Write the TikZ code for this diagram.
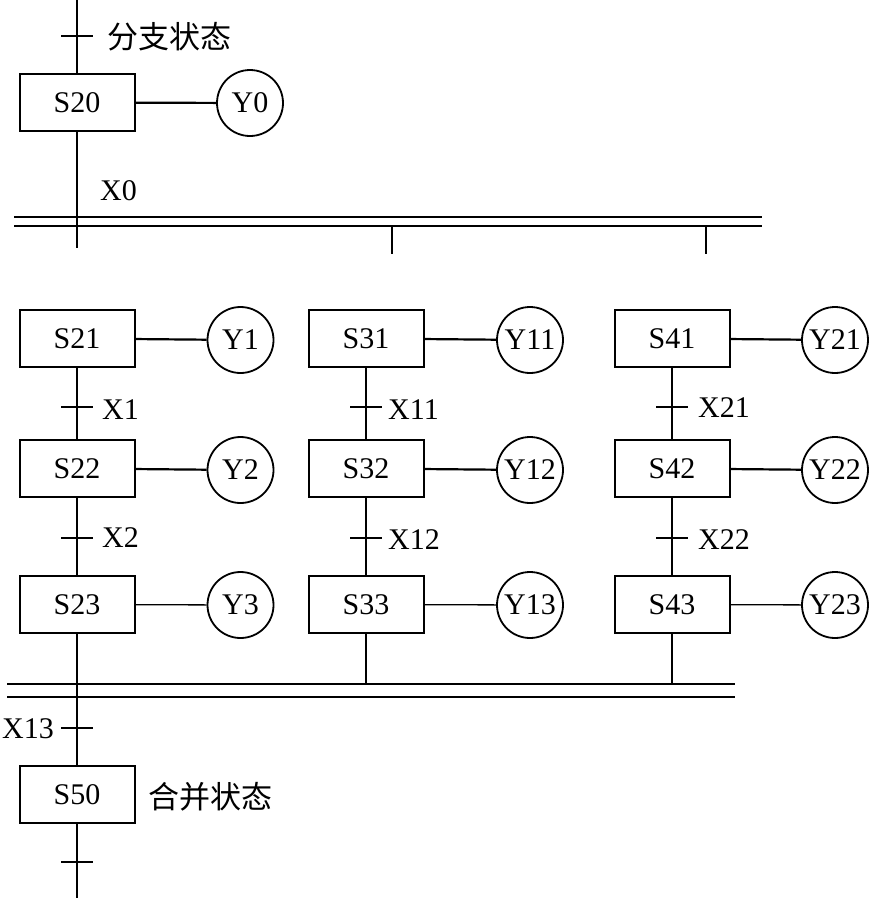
\documentclass[tikz,border=0pt]{standalone}
\usepackage{fontspec}
\setmainfont{Liberation Serif}
\newfontfamily\cjk{Noto Sans CJK SC}
\begin{document}
\begin{tikzpicture}[x=1pt,y=-1pt,
  stepbox/.style={draw, line width=2pt, minimum width=115pt, minimum height=57pt, inner sep=0pt, font=\fontsize{30}{32}\selectfont},
  outc/.style={draw, circle, line width=1.8pt, minimum size=66pt, inner sep=0pt, font=\fontsize{30}{32}\selectfont},
  lbl/.style={font=\fontsize{30}{32}\selectfont, inner sep=0pt},
  cjklbl/.style={font=\cjk\fontsize{31}{33}\selectfont, inner sep=0pt},
  ln/.style={line width=2.2pt},
  lnthin/.style={line width=1.3pt},
  tick/.style={line width=2.2pt}]
\useasboundingbox (0,0) rectangle (869,898);

% ---------- top: S20 ----------
\coordinate (top) at (77,0);
\node[stepbox] (S20) at (77,102.5) {S20};
\node[outc] (Y0) at (250,103) {Y0};
\draw[ln] (top) -- (S20.north);
\draw[ln] (S20) -- (Y0);
\coordinate (t0) at (77,36);
\draw[tick] ([xshift=-16pt]t0) -- ([xshift=16pt]t0);
\node[cjklbl, anchor=west] (lb0) at (107,37) {分支状态};
\coordinate (s20end) at (77,248);
\draw[ln] (S20.south) -- (s20end);
\node[lbl, anchor=west] (X0) at (100,191) {X0};

% top double line
\coordinate (da1) at (14,217);  \coordinate (da2) at (762,217);
\coordinate (db1) at (14,226);  \coordinate (db2) at (762,226);
\draw[ln] (da1) -- (da2);
\draw[ln] (db1) -- (db2);
\coordinate (st1a) at (392,226); \coordinate (st1b) at (392,254);
\coordinate (st2a) at (706,226); \coordinate (st2b) at (706,254);
\draw[ln] (st1a) -- (st1b);
\draw[ln] (st2a) -- (st2b);

% ---------- column 1 ----------
\node[stepbox] (S21) at (77,338.5) {S21};
\node[stepbox] (S22) at (77,468.5) {S22};
\node[stepbox] (S23) at (77,604.5) {S23};
\node[outc] (Y1) at (240.5,340) {Y1};
\node[outc] (Y2) at (240.5,470) {Y2};
\node[outc] (Y3) at (240.5,605) {Y3};
\draw[ln] (S21) -- (Y1);
\draw[ln] (S22) -- (Y2);
\draw[lnthin] (S23) -- (Y3);
\draw[ln] (S21) -- (S22);
\draw[ln] (S22) -- (S23);
\coordinate (t1) at (77,407);
\coordinate (t2) at (77,538);
\draw[tick] ([xshift=-16pt]t1) -- ([xshift=16pt]t1);
\draw[tick] ([xshift=-16pt]t2) -- ([xshift=16pt]t2);
\node[lbl, anchor=west] (X1) at (102,410) {X1};
\node[lbl, anchor=west] (X2) at (102,538) {X2};

% ---------- column 2 ----------
\node[stepbox] (S31) at (366,338.5) {S31};
\node[stepbox] (S32) at (366,468.5) {S32};
\node[stepbox] (S33) at (366,604.5) {S33};
\node[outc] (Y11) at (530,340) {Y11};
\node[outc] (Y12) at (530,470) {Y12};
\node[outc] (Y13) at (530,605) {Y13};
\draw[ln] (S31) -- (Y11);
\draw[ln] (S32) -- (Y12);
\draw[lnthin] (S33) -- (Y13);
\draw[ln] (S31) -- (S32);
\draw[ln] (S32) -- (S33);
\coordinate (t11) at (366,407);
\coordinate (t12) at (366,538);
\draw[tick] ([xshift=-16pt]t11) -- ([xshift=16pt]t11);
\draw[tick] ([xshift=-16pt]t12) -- ([xshift=16pt]t12);
\node[lbl, anchor=west] (X11) at (388,410) {X11};
\node[lbl, anchor=west] (X12) at (388,540) {X12};

% ---------- column 3 ----------
\node[stepbox] (S41) at (672,338.5) {S41};
\node[stepbox] (S42) at (672,468.5) {S42};
\node[stepbox] (S43) at (672,604.5) {S43};
\node[outc] (Y21) at (835,340) {Y21};
\node[outc] (Y22) at (835,470) {Y22};
\node[outc] (Y23) at (835,605) {Y23};
\draw[ln] (S41) -- (Y21);
\draw[ln] (S42) -- (Y22);
\draw[lnthin] (S43) -- (Y23);
\draw[ln] (S41) -- (S42);
\draw[ln] (S42) -- (S43);
\coordinate (t21) at (672,407);
\coordinate (t22) at (672,538);
\draw[tick] ([xshift=-16pt]t21) -- ([xshift=16pt]t21);
\draw[tick] ([xshift=-16pt]t22) -- ([xshift=16pt]t22);
\node[lbl, anchor=west] (X21) at (698,408) {X21};
\node[lbl, anchor=west] (X22) at (698,540) {X22};

% ---------- bottom double line ----------
\coordinate (ba1) at (7,684);  \coordinate (ba2) at (735,684);
\coordinate (bb1) at (7,697);  \coordinate (bb2) at (735,697);
\draw[ln] (ba1) -- (ba2);
\draw[ln] (bb1) -- (bb2);
\coordinate (m2) at (366,684);
\coordinate (m3) at (672,684);
\draw[ln] (S33.south) -- (m2);
\draw[ln] (S43.south) -- (m3);

% ---------- S50 ----------
\node[stepbox] (S50) at (77,794.5) {S50};
\draw[ln] (S23.south) -- (S50.north);
\coordinate (t13) at (77,728);
\draw[tick] ([xshift=-16pt]t13) -- ([xshift=16pt]t13);
\node[lbl, anchor=east] (X13) at (54,729) {X13};
\node[cjklbl, anchor=west] (lb50) at (148,797) {合并状态};
\coordinate (t50) at (77,862);
\draw[tick] ([xshift=-16pt]t50) -- ([xshift=16pt]t50);
\coordinate (bot) at (77,898);
\draw[ln] (S50.south) -- (bot);
\end{tikzpicture}
\end{document}
